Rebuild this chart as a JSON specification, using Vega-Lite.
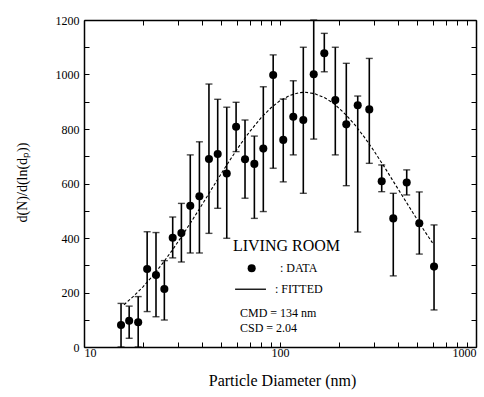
{
  "$schema": "https://vega.github.io/schema/vega-lite/v6.json",
  "width": 392,
  "height": 327,
  "autosize": "none",
  "padding": {"left": 84, "top": 20, "right": 8, "bottom": 50},
  "background": "white",
  "config": {
    "view": {"stroke": null},
    "font": "Liberation Serif",
    "axis": {
      "grid": false,
      "domainColor": "black",
      "domainWidth": 1.5,
      "tickColor": "black",
      "tickWidth": 1,
      "tickSize": -5,
      "labelColor": "black",
      "labelFont": "Liberation Serif",
      "labelFontSize": 12,
      "titleColor": "black",
      "titleFont": "Liberation Serif",
      "titleFontWeight": "normal"
    }
  },
  "datasets": {
    "pts": [
      {"d": 15.45, "n": 81, "lo": 0, "hi": 160},
      {"d": 17.0, "n": 96, "lo": 32, "hi": 150},
      {"d": 18.9, "n": 91, "lo": 0, "hi": 185},
      {"d": 21.0, "n": 286, "lo": 130, "hi": 423},
      {"d": 23.3, "n": 264, "lo": 111, "hi": 420},
      {"d": 25.7, "n": 213, "lo": 99, "hi": 317},
      {"d": 28.35, "n": 401, "lo": 327, "hi": 477},
      {"d": 31.4, "n": 418, "lo": 312, "hi": 527},
      {"d": 34.85, "n": 518, "lo": 345, "hi": 705},
      {"d": 38.8, "n": 553, "lo": 345, "hi": 753},
      {"d": 43.4, "n": 690, "lo": 417, "hi": 965},
      {"d": 48.1, "n": 708, "lo": 509, "hi": 909},
      {"d": 53.5, "n": 637, "lo": 399, "hi": 880},
      {"d": 59.7, "n": 808, "lo": 717, "hi": 898},
      {"d": 66.3, "n": 689, "lo": 546, "hi": 833},
      {"d": 74.0, "n": 672, "lo": 472, "hi": 774},
      {"d": 82.2, "n": 728, "lo": 497, "hi": 955},
      {"d": 92.3, "n": 998, "lo": 656, "hi": 1072},
      {"d": 103.9, "n": 760, "lo": 606, "hi": 910},
      {"d": 116.9, "n": 845, "lo": 705, "hi": 977},
      {"d": 131.5, "n": 833, "lo": 564, "hi": 1100},
      {"d": 148.6, "n": 1001, "lo": 763, "hi": 1200},
      {"d": 168.3, "n": 1078, "lo": 1010, "hi": 1151},
      {"d": 191.5, "n": 906, "lo": 705, "hi": 1100},
      {"d": 217.9, "n": 817, "lo": 592, "hi": 1041},
      {"d": 249.2, "n": 887, "lo": 422, "hi": 921},
      {"d": 285.5, "n": 872, "lo": 674, "hi": 1059},
      {"d": 330.3, "n": 608, "lo": 570, "hi": 668},
      {"d": 378.4, "n": 472, "lo": 261, "hi": 564},
      {"d": 443.1, "n": 604, "lo": 558, "hi": 650},
      {"d": 513.7, "n": 454, "lo": 341, "hi": 569},
      {"d": 610.8, "n": 295, "lo": 136, "hi": 448}
    ],
    "fit": [
      {"d": 16, "n": 155}, {"d": 18, "n": 188}, {"d": 20, "n": 221},
      {"d": 22, "n": 254}, {"d": 25, "n": 304}, {"d": 28, "n": 352},
      {"d": 32, "n": 413}, {"d": 36, "n": 470}, {"d": 40, "n": 522},
      {"d": 45, "n": 582}, {"d": 50, "n": 635}, {"d": 56, "n": 690},
      {"d": 63, "n": 745}, {"d": 70, "n": 790}, {"d": 80, "n": 841},
      {"d": 90, "n": 878}, {"d": 100, "n": 904}, {"d": 112, "n": 923},
      {"d": 125, "n": 933}, {"d": 134, "n": 935}, {"d": 150, "n": 930},
      {"d": 170, "n": 914}, {"d": 190, "n": 891}, {"d": 215, "n": 855},
      {"d": 240, "n": 817}, {"d": 270, "n": 769}, {"d": 300, "n": 722},
      {"d": 340, "n": 662}, {"d": 380, "n": 606}, {"d": 430, "n": 544},
      {"d": 480, "n": 489}, {"d": 540, "n": 431}, {"d": 600, "n": 382}
    ],
    "head": [{"d": 57.5, "n": 370, "t": "LIVING ROOM"}],
    "notes": [
      {"d": 100, "n": 290, "t": ": DATA"},
      {"d": 94.3, "n": 212, "t": ": FITTED"},
      {"d": 62.5, "n": 126, "t": "CMD = 134 nm"},
      {"d": 62.5, "n": 69, "t": "CSD = 2.04"}
    ],
    "legdot": [{"d": 71.7, "n": 289}],
    "legline": [{"d": 59, "n": 212}, {"d": 84.8, "n": 212}]
  },
  "layer": [
    {
      "data": {"name": "fit"},
      "mark": {"type": "line", "color": "black", "strokeWidth": 1.1, "strokeDash": [3, 2]},
      "encoding": {
        "x": {
          "field": "d", "type": "quantitative",
          "scale": {"type": "log", "domain": [10, 1000], "nice": false},
          "axis": {
            "orient": "bottom",
            "values": [10, 20, 30, 40, 50, 60, 70, 80, 90, 100, 200, 300, 400, 500, 600, 700, 800, 900, 1000],
            "labelExpr": "datum.value == 10 || datum.value == 100 || datum.value == 1000 ? '' + datum.value : ''",
            "labelPadding": 5,
            "labelFontSize": 12,
            "title": "Particle Diameter (nm)",
            "titleFontSize": 16,
            "titleX": 198,
            "titleY": 33,
            "titleBaseline": "middle",
            "titleAlign": "center"
          }
        },
        "y": {
          "field": "n", "type": "quantitative",
          "scale": {"domain": [0, 1200], "nice": false},
          "axis": {
            "orient": "left",
            "values": [0, 100, 200, 300, 400, 500, 600, 700, 800, 900, 1000, 1100, 1200],
            "labelExpr": "datum.value % 200 == 0 ? '' + datum.value : ''",
            "labelPadding": 10,
            "title": "d(N)/d(ln(dₚ))",
            "titleFontSize": 14,
            "titleX": -62,
            "titleY": 162,
            "titleAngle": -90,
            "titleBaseline": "middle",
            "titleAlign": "center"
          }
        }
      }
    },
    {
      "data": {"name": "fit"},
      "mark": {"type": "point", "opacity": 0},
      "encoding": {
        "x": {
          "field": "d", "type": "quantitative",
          "axis": {
            "orient": "top",
            "values": [10, 20, 30, 40, 50, 60, 70, 80, 90, 100, 200, 300, 400, 500, 600, 700, 800, 900, 1000],
            "labels": false,
            "title": null
          }
        },
        "y": {
          "field": "n", "type": "quantitative",
          "axis": {
            "orient": "right",
            "values": [0, 100, 200, 300, 400, 500, 600, 700, 800, 900, 1000, 1100, 1200],
            "labels": false,
            "title": null
          }
        }
      }
    },
    {
      "data": {"name": "pts"},
      "mark": {
        "type": "errorbar",
        "color": "black",
        "thickness": 1.6,
        "ticks": {"size": 7, "thickness": 1.4, "color": "black"}
      },
      "encoding": {
        "x": {"field": "d", "type": "quantitative", "axis": null},
        "y": {"field": "lo", "type": "quantitative", "axis": null},
        "y2": {"field": "hi"}
      }
    },
    {
      "data": {"name": "pts"},
      "mark": {"type": "point", "filled": true, "color": "black", "opacity": 1, "size": 65},
      "encoding": {
        "x": {"field": "d", "type": "quantitative", "axis": null},
        "y": {"field": "n", "type": "quantitative", "axis": null}
      }
    },
    {
      "data": {"name": "legdot"},
      "mark": {"type": "point", "filled": true, "color": "black", "opacity": 1, "size": 65},
      "encoding": {
        "x": {"field": "d", "type": "quantitative", "axis": null},
        "y": {"field": "n", "type": "quantitative", "axis": null}
      }
    },
    {
      "data": {"name": "legline"},
      "mark": {"type": "line", "color": "black", "strokeWidth": 1.3},
      "encoding": {
        "x": {"field": "d", "type": "quantitative", "axis": null},
        "y": {"field": "n", "type": "quantitative", "axis": null}
      }
    },
    {
      "data": {"name": "head"},
      "mark": {"type": "text", "align": "left", "baseline": "middle", "fontSize": 16, "font": "Liberation Serif", "color": "black"},
      "encoding": {
        "x": {"field": "d", "type": "quantitative", "axis": null},
        "y": {"field": "n", "type": "quantitative", "axis": null},
        "text": {"field": "t"}
      }
    },
    {
      "data": {"name": "notes"},
      "mark": {"type": "text", "align": "left", "baseline": "middle", "fontSize": 12, "font": "Liberation Serif", "color": "black"},
      "encoding": {
        "x": {"field": "d", "type": "quantitative", "axis": null},
        "y": {"field": "n", "type": "quantitative", "axis": null},
        "text": {"field": "t"}
      }
    }
  ],
  "resolve": {"axis": {"x": "independent", "y": "independent"}}
}
